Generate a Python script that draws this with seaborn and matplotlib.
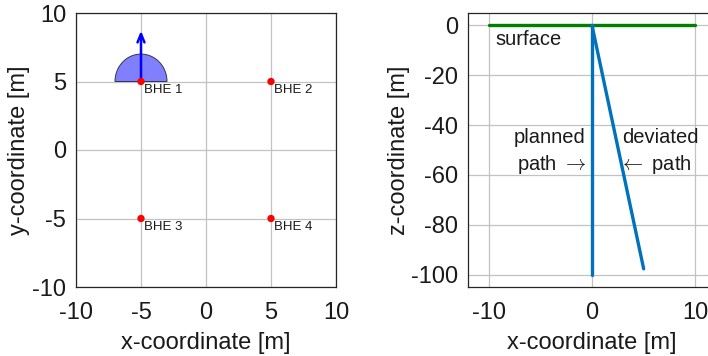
import numpy as np
import pandas as pd
import matplotlib
matplotlib.use("Agg")
import matplotlib.pyplot as plt
import seaborn as sns

# Borehole heat exchanger layout (plan view)
bhe_names = ["BHE 1", "BHE 2", "BHE 3", "BHE 4"]
bhe_x = [-5, 5, -5, 5]
bhe_y = [5, 5, -5, -5]

# Deviation sector and direction at BHE 1
sector_center = (-5, 5)
sector_radius = 2.0
arrow_tip_y = 8.7

# Vertical section
surface_x = [-10, 10]
surface_z = [0, 0]
planned_x = [0, 0]
planned_z = [0, -100]
deviated_x = [0, 5]
deviated_z = [0, -97.7]

sns.set_style("white")
plt.rcParams["font.family"] = ["Liberation Sans", "DejaVu Sans"]
plt.rcParams["mathtext.fontset"] = "cm"
plt.rcParams["axes.unicode_minus"] = False

BLUE = (0.0, 0.447, 0.741)
GREEN = (0.0, 0.5, 0.0)
GRID = (0.76, 0.76, 0.76)
SPINE = (0.15, 0.15, 0.15)
TXT = (0.1, 0.1, 0.1)
FS = 17

fig = plt.figure(figsize=(7.08, 3.56), dpi=100)
ax1 = fig.add_axes([76 / 708, 69 / 356, 260 / 708, 274 / 356])
ax2 = fig.add_axes([468 / 708, 69 / 356, 248 / 708, 274 / 356])


def style(ax):
    ax.grid(True, color=GRID, linewidth=0.9)
    ax.set_axisbelow(True)
    for s in ax.spines.values():
        s.set_color(SPINE)
        s.set_linewidth(0.9)
    ax.tick_params(direction="in", length=4, width=0.8, color=SPINE,
                   labelsize=FS, labelcolor=TXT)
    ax.tick_params(axis="x", pad=11)
    ax.tick_params(axis="y", pad=7)


# --- plan view ---
style(ax1)
theta = np.linspace(0, np.pi, 100)
ax1.fill(sector_center[0] + sector_radius * np.cos(theta),
         sector_center[1] + sector_radius * np.sin(theta),
         facecolor=(0.5, 0.5, 1.0), edgecolor=(0.2, 0.2, 0.3), linewidth=0.7, zorder=2)
ax1.annotate("", xy=(sector_center[0], arrow_tip_y), xytext=sector_center,
             arrowprops=dict(arrowstyle="->,head_length=0.6,head_width=0.25",
                             color=(0, 0, 1), lw=1.8, shrinkA=0, shrinkB=0), zorder=3)
bhe_df = pd.DataFrame({"x": bhe_x, "y": bhe_y, "name": bhe_names})
sns.scatterplot(data=bhe_df, x="x", y="y", ax=ax1, color="red", s=28,
                edgecolor="none", zorder=4)
for _, r in bhe_df.iterrows():
    ax1.text(r.x + 0.2, r.y - 0.2, r["name"], fontsize=9.5, ha="left", va="top",
             color=TXT)
ax1.set_xlim(-10, 10)
ax1.set_ylim(-10, 10)
ax1.set_xticks([-10, -5, 0, 5, 10])
ax1.set_yticks([-10, -5, 0, 5, 10])
ax1.set_xlabel("x-coordinate [m]", fontsize=FS, color=TXT)
ax1.set_ylabel("y-coordinate [m]", fontsize=FS, color=TXT)
ax1.xaxis.set_label_coords(0.5, -0.165)
ax1.yaxis.set_label_coords(-0.177, 0.5)

# --- vertical section ---
style(ax2)
sns.lineplot(x=surface_x, y=surface_z, ax=ax2, color=GREEN, linewidth=2.4, sort=False)
sns.lineplot(x=planned_x, y=planned_z, ax=ax2, color=BLUE, linewidth=2.4, sort=False,
             orient="y")
sns.lineplot(x=deviated_x, y=deviated_z, ax=ax2, color=BLUE, linewidth=2.4, sort=False,
             orient="y")
ax2.text(-9.3, -2.0, "surface", fontsize=14.5, ha="left", va="top", color=TXT)
ax2.text(-0.6, -45, "planned", fontsize=14.5, ha="right", va="center", color=TXT)
ax2.text(-0.6, -56, r"path $\rightarrow$", fontsize=14.5, ha="right", va="center", color=TXT)
ax2.text(2.9, -45, "deviated", fontsize=14.5, ha="left", va="center", color=TXT)
ax2.text(2.6, -56, r"$\leftarrow$ path", fontsize=14.5, ha="left", va="center", color=TXT)
ax2.set_xlim(-12, 12)
ax2.set_ylim(-105, 5)
ax2.set_xticks([-10, 0, 10])
ax2.set_yticks([0, -20, -40, -60, -80, -100])
ax2.set_xlabel("x-coordinate [m]", fontsize=FS, color=TXT)
ax2.set_ylabel("z-coordinate [m]", fontsize=FS, color=TXT)
ax2.xaxis.set_label_coords(0.5, -0.165)
ax2.yaxis.set_label_coords(-0.234, 0.5)

fig.savefig("out.png", dpi=100)
